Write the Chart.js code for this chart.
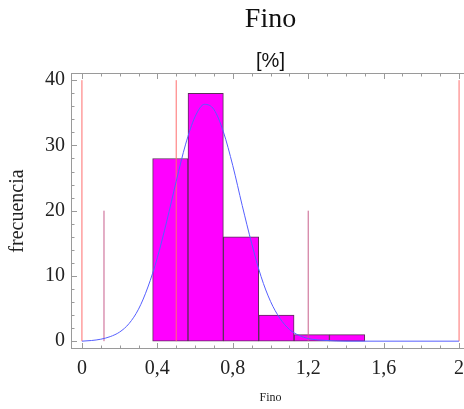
<!DOCTYPE html>
<html>
<head>
<meta charset="utf-8">
<title>Fino</title>
<script src="https://cdn.jsdelivr.net/npm/chart.js@4.4.1/dist/chart.umd.min.js"></script>
<style>
  html, body { margin: 0; padding: 0; background: #fff; overflow: hidden; }
  canvas { display: block; }
</style>
</head>
<body>
<canvas id="histograma" width="480" height="409"></canvas>
<script>
// Histograma de Fino [%] con curva normal ajustada y líneas de límites
const binEdges = [0.375, 0.5625, 0.75, 0.9375, 1.125, 1.3125, 1.5];
const counts = [28, 38, 16, 4, 1, 1];

// curva normal leída punto a punto
const curveX = [0, 0.05, 0.1, 0.15, 0.2, 0.25, 0.3, 0.35, 0.4, 0.45, 0.5, 0.55, 0.6, 0.65, 0.7,
                0.75, 0.8, 0.85, 0.9, 0.95, 1.0, 1.05, 1.1, 1.15, 1.2, 1.25, 1.3, 1.4, 2.0];
const curveY = [0.0, 0.1, 0.3, 0.7, 1.4, 2.7, 4.9, 8.3, 12.8, 18.4, 24.5, 30.2, 34.4, 36.3, 35.5,
                32.1, 26.9, 20.8, 15.0, 9.9, 6.1, 3.5, 1.8, 0.9, 0.4, 0.2, 0.1, 0.0, 0.0];

// límites de especificación (rojo) y media ± 3 sigma (rosado)
const specLines = [0, 0.5, 2];
const specTop = 40;
const sigmaLines = [0.117, 1.2];
const sigmaTop = 20;

const xTickValues = [0, 0.4, 0.8, 1.2, 1.6, 2];
const yTickValues = [0, 10, 20, 30, 40];
const xMinorStep = 0.1;
const yMinorStep = 2;

const serif = "'Liberation Serif', 'Times New Roman', serif";
const sans = "'Liberation Sans', Arial, sans-serif";

const barData = counts.map((c, i) => ({ x: (binEdges[i] + binEdges[i + 1]) / 2, y: c }));
const curveData = curveX.map((x, i) => ({ x: x, y: curveY[i] }));

function vline(x, top, color) {
    return {
        type: 'line',
        data: [{ x: x, y: 0 }, { x: x, y: top }],
        borderColor: color,
        borderWidth: 1,
        pointRadius: 0,
        order: 0
    };
}

// marco con marcas hacia adentro en los cuatro lados
const marco = {
    id: 'marco',
    beforeDatasetsDraw(chart) {
        const { ctx, chartArea: a, scales: { x, y } } = chart;
        ctx.save();
        ctx.strokeStyle = '#9a9a9a';
        ctx.lineWidth = 1;
        ctx.strokeRect(Math.round(a.left) + 0.5, Math.round(a.top) + 0.5,
            Math.round(a.right - a.left) - 1, Math.round(a.bottom - a.top) - 1);
        ctx.beginPath();
        const iStart = Math.ceil(x.min / xMinorStep), iEnd = Math.floor(x.max / xMinorStep + 1e-6);
        for (let i = iStart; i <= iEnd; i++) {
            const v = i * xMinorStep;
            const major = xTickValues.some(t => Math.abs(t - v) < 1e-6);
            const len = major ? 6 : 3.5;
            const px = Math.round(x.getPixelForValue(v)) + 0.5;
            ctx.moveTo(px, a.bottom); ctx.lineTo(px, a.bottom - len);
            ctx.moveTo(px, a.top); ctx.lineTo(px, a.top + len);
        }
        const jStart = Math.ceil(y.min / yMinorStep), jEnd = Math.floor(y.max / yMinorStep);
        for (let j = jStart; j <= jEnd; j++) {
            const v = j * yMinorStep;
            const major = yTickValues.includes(v);
            const len = major ? 6 : 3.5;
            const py = Math.round(y.getPixelForValue(v)) + 0.5;
            ctx.moveTo(a.left, py); ctx.lineTo(a.left + len, py);
            ctx.moveTo(a.right, py); ctx.lineTo(a.right - len, py);
        }
        ctx.stroke();
        ctx.restore();
    }
};

new Chart(document.getElementById('histograma'), {
    type: 'bar',
    data: {
        datasets: [
            {
                type: 'line',
                data: curveData,
                borderColor: 'rgb(85, 95, 255)',
                borderWidth: 1,
                pointRadius: 0,
                cubicInterpolationMode: 'monotone',
                order: 0
            },
            ...specLines.map(v => vline(v, specTop, 'rgb(255, 110, 110)')),
            ...sigmaLines.map(v => vline(v, sigmaTop, 'rgb(200, 95, 140)')),
            {
                type: 'bar',
                data: barData,
                backgroundColor: '#ff00ff',
                borderColor: 'rgb(90, 45, 90)',
                borderWidth: 1,
                borderSkipped: false,
                barPercentage: 1,
                categoryPercentage: 1,
                order: 1
            }
        ]
    },
    options: {
        responsive: false,
        animation: false,
        events: [],
        layout: { padding: { left: 6, right: 10, top: 0, bottom: 4 } },
        plugins: {
            legend: { display: false },
            tooltip: { enabled: false },
            title: {
                display: true,
                text: 'Fino',
                fullSize: false,
                color: '#111',
                font: { family: serif, size: 28, weight: 'normal', lineHeight: 1 },
                padding: { top: 6, bottom: 0 }
            },
            subtitle: {
                display: true,
                text: '[%]',
                fullSize: false,
                color: '#111',
                font: { family: sans, size: 20, weight: 'normal', lineHeight: 1 },
                padding: { top: 17, bottom: 2 }
            }
        },
        scales: {
            x: {
                type: 'linear',
                min: -0.058,
                max: 2.058,
                offset: false,
                grid: { display: false, drawTicks: false },
                border: { display: false },
                afterFit(scale) { scale.height = 56; },
                afterBuildTicks(scale) { scale.ticks = xTickValues.map(v => ({ value: v })); },
                ticks: {
                    color: '#222',
                    padding: 8,
                    maxRotation: 0,
                    font: { family: serif, size: 20 },
                    callback: v => String(Math.round(v * 10) / 10).replace('.', ',')
                },
                title: {
                    display: true,
                    text: 'Fino',
                    color: '#222',
                    padding: 0,
                    font: { family: serif, size: 12 }
                }
            },
            y: {
                min: -1.2,
                max: 41.1,
                grid: { display: false, drawTicks: false },
                border: { display: false },
                afterFit(scale) { scale.width = 65; },
                afterBuildTicks(scale) { scale.ticks = yTickValues.map(v => ({ value: v })); },
                ticks: {
                    color: '#222',
                    padding: 6,
                    font: { family: serif, size: 20 }
                },
                title: {
                    display: true,
                    text: 'frecuencia',
                    color: '#222',
                    padding: 0,
                    font: { family: serif, size: 20 }
                }
            }
        }
    },
    plugins: [marco]
});
</script>
</body>
</html>
